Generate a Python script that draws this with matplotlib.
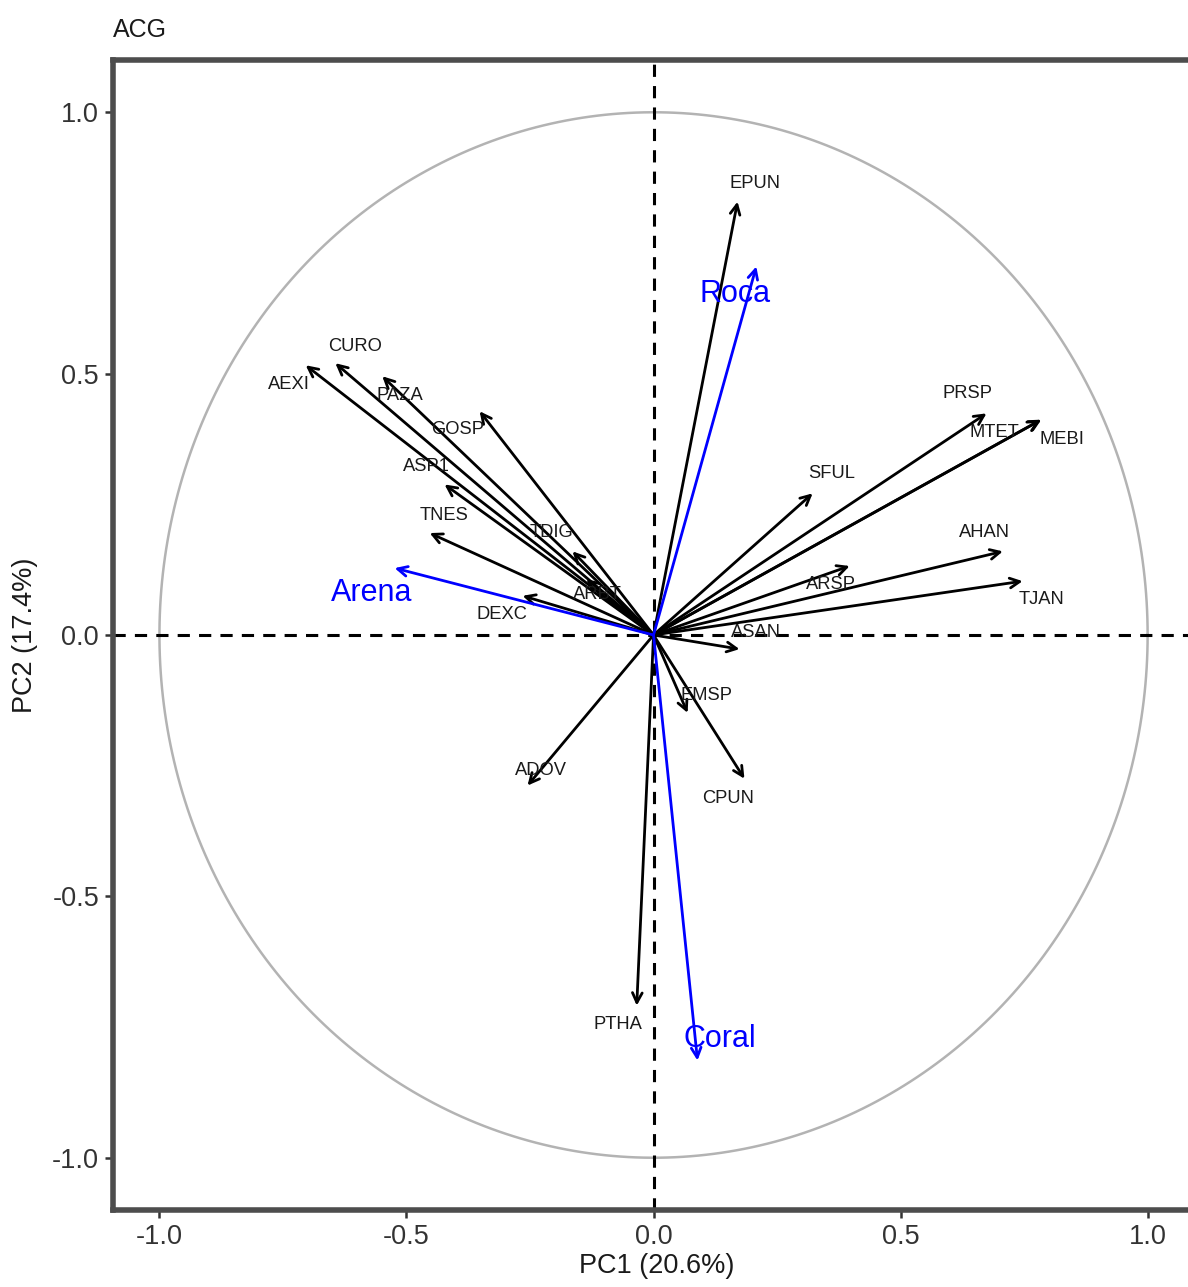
import matplotlib
matplotlib.use("Agg")
import matplotlib.pyplot as plt
import numpy as np

plt.rcParams['font.family'] = ['Liberation Sans', 'DejaVu Sans']

# Variable loadings (arrow tips)
var_names = ["EPUN", "CURO", "AEXI", "PAZA", "GOSP", "ASP1", "TNES", "TDIG", "ARBT", "DEXC",
             "PRSP", "MTET", "MEBI", "SFUL", "AHAN", "ARSP", "TJAN", "ASAN", "EMSP", "CPUN",
             "ADOV", "PTHA"]
var_pc1 = [0.170, -0.644, -0.704, -0.549, -0.352, -0.423, -0.453, -0.164, -0.136, -0.265,
           0.674, 0.783, 0.785, 0.322, 0.707, 0.397, 0.747, 0.174, 0.069, 0.184,
           -0.255, -0.034]
var_pc2 = [0.829, 0.520, 0.516, 0.495, 0.428, 0.288, 0.195, 0.160, 0.107, 0.075,
           0.424, 0.411, 0.412, 0.271, 0.160, 0.132, 0.103, -0.027, -0.149, -0.275,
           -0.288, -0.709]
# label positions (repelled)
lab_pc1 = [0.206, -0.605, -0.737, -0.514, -0.397, -0.460, -0.423, -0.206, -0.113, -0.306,
           0.636, 0.690, 0.826, 0.360, 0.670, 0.360, 0.785, 0.208, 0.107, 0.150,
           -0.227, -0.073]
lab_pc2 = [0.863, 0.552, 0.479, 0.458, 0.394, 0.323, 0.229, 0.197, 0.078, 0.040,
           0.462, 0.388, 0.374, 0.309, 0.197, 0.097, 0.067, 0.004, -0.115, -0.313,
           -0.260, -0.745]

# Supplementary (habitat) variables
sup_names = ["Roca", "Arena", "Coral"]
sup_pc1 = [0.208, -0.524, 0.089]
sup_pc2 = [0.705, 0.128, -0.814]
sup_lab_pc1 = [0.164, -0.571, 0.134]
sup_lab_pc2 = [0.653, 0.080, -0.772]

title = "ACG"
xlabel = "PC1 (20.6%)"
ylabel = "PC2 (17.4%)"
ticks = [-1.0, -0.5, 0.0, 0.5, 1.0]

W, H = 1188, 1287
fig = plt.figure(figsize=(W / 100, H / 100), dpi=100)
ax = fig.add_axes([113 / W, (H - 1210) / H, 1087 / W, 1150 / H])
ax.set_xlim(-1.094, 1.106)
ax.set_ylim(-1.1, 1.1)

# correlation circle
t = np.linspace(0, 2 * np.pi, 400)
ax.plot(np.cos(t), np.sin(t), color="#b3b3b3", lw=1.8, zorder=1)

ax.axhline(0, color="black", lw=2.2, ls=(0, (4, 3)), zorder=2)
ax.axvline(0, color="black", lw=2.2, ls=(0, (4, 3)), zorder=2)

astyle = "->,head_length=0.7,head_width=0.35"
for n, x, y, lx, ly in zip(var_names, var_pc1, var_pc2, lab_pc1, lab_pc2):
    ax.annotate("", xy=(x, y), xytext=(0, 0),
                arrowprops=dict(arrowstyle=astyle, lw=2.0, color="black",
                                shrinkA=0, shrinkB=0), zorder=3)
    ax.text(lx, ly, n, fontsize=13.2, color="#1a1a1a", ha="center", va="center", zorder=4)

for n, x, y, lx, ly in zip(sup_names, sup_pc1, sup_pc2, sup_lab_pc1, sup_lab_pc2):
    ax.annotate("", xy=(x, y), xytext=(0, 0),
                arrowprops=dict(arrowstyle=astyle, lw=2.0, color="#0000ff",
                                shrinkA=0, shrinkB=0), zorder=3)
    ax.text(lx, ly, n, fontsize=22, color="#0000ff", ha="center", va="center", zorder=4)

ax.set_xticks(ticks)
ax.set_yticks(ticks)
ax.set_xticklabels([f"{v:.1f}" for v in ticks])
ax.set_yticklabels([f"{v:.1f}" for v in ticks])
ax.tick_params(axis="both", labelsize=19.5, colors="#333333", length=6, width=1.8,
               direction="out", pad=4)
for s in ax.spines.values():
    s.set_color("#4d4d4d")
    s.set_linewidth(4)

ax.set_xlabel(xlabel, fontsize=19.5, color="#1a1a1a", labelpad=2)
ax.set_ylabel(ylabel, fontsize=19.5, color="#1a1a1a", labelpad=10)
fig.text(113 / W, 1 - 30 / H, title, fontsize=18, color="#1a1a1a", ha="left", va="center")

fig.savefig("out.png", dpi=100)
